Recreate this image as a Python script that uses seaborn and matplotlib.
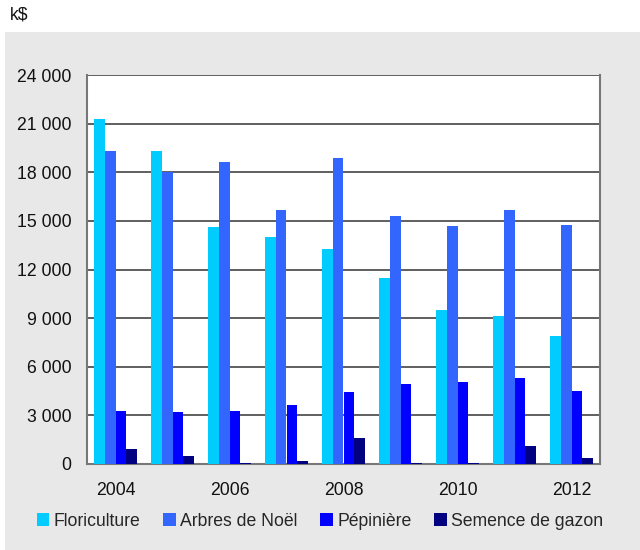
import matplotlib
matplotlib.use("Agg")
import matplotlib.pyplot as plt
import matplotlib.patches as mpatches
import seaborn as sns
import pandas as pd

years = ["2004", "2005", "2006", "2007", "2008", "2009", "2010", "2011", "2012"]
series = ["Floriculture", "Arbres de Noël", "Pépinière", "Semence de gazon"]
floriculture = [21270, 19300, 14620, 14000, 13260, 11480, 9500, 9140, 7900]
arbres = [19300, 18000, 18620, 15670, 18870, 15300, 14680, 15670, 14740]
pepiniere = [3280, 3220, 3280, 3650, 4450, 4950, 5070, 5320, 4520]
semence = [940, 510, 80, 200, 1620, 80, 80, 1130, 390]
yticks = [0, 3000, 6000, 9000, 12000, 15000, 18000, 21000, 24000]
ytick_labels = ["0", "3 000", "6 000", "9 000", "12 000", "15 000", "18 000", "21 000", "24 000"]
xtick_labels = ["2004", "", "2006", "", "2008", "", "2010", "", "2012"]
colors = ["#00CCFF", "#3366FF", "#0000FF", "#000080"]

rows = []
for name, vals in zip(series, [floriculture, arbres, pepiniere, semence]):
    for y, v in zip(years, vals):
        rows.append({"Année": y, "Série": name, "Valeur": v})
df = pd.DataFrame(rows)

sns.set_theme(style="white")
plt.rcParams["font.family"] = ["Liberation Sans", "DejaVu Sans"]

FS = 12.7
fig = plt.figure(figsize=(6.4, 5.5), dpi=100)
fig.patch.set_facecolor("white")
bg = mpatches.Rectangle((5 / 640, 0), 1 - 5 / 640, (550 - 32) / 550,
                        transform=fig.transFigure, facecolor="#E8E8E8",
                        edgecolor="none", zorder=-10)
fig.patches.append(bg)

ax = fig.add_axes([87 / 640, 1 - 464 / 550, (600 - 87) / 640, (464 - 75) / 550])
ax.set_zorder(1)
ax.set_facecolor("white")
sns.barplot(data=df, x="Année", y="Valeur", hue="Série", hue_order=series,
            order=years, palette=colors, width=0.74, saturation=1,
            linewidth=0, ax=ax, legend=False, zorder=3)

ax.set_ylim(0, 24000)
ax.set_xlim(-0.5, len(years) - 0.5)
ax.set_yticks(yticks)
ax.set_yticklabels(ytick_labels, fontsize=FS, color="#111111")
ax.set_xticks(range(len(years)))
ax.set_xticklabels(xtick_labels, fontsize=FS, color="#111111")
ax.tick_params(axis="both", length=0)
ax.tick_params(axis="y", pad=11)
ax.tick_params(axis="x", pad=13)
ax.set_xlabel("")
ax.set_ylabel("")
ax.yaxis.grid(True, color="#444444", linewidth=1.2, zorder=1)
ax.set_axisbelow(True)
for side in ["left", "right", "bottom"]:
    ax.spines[side].set_visible(True)
    ax.spines[side].set_color("#777777")
    ax.spines[side].set_linewidth(1.5)
ax.spines["top"].set_visible(False)

handles = [mpatches.Patch(facecolor=c, edgecolor="none", label=s) for c, s in zip(colors, series)]
fig.legend(handles=handles, loc="center", bbox_to_anchor=(0.5, 1 - 521 / 550), ncol=4,
           frameon=False, fontsize=FS, handlelength=0.7, handleheight=0.8,
           handletextpad=0.25, columnspacing=1.3)

fig.text(10 / 640, 1 - 15 / 550, "k$", fontsize=FS, va="center", ha="left", color="#111111")

fig.savefig("out.png", dpi=100)
